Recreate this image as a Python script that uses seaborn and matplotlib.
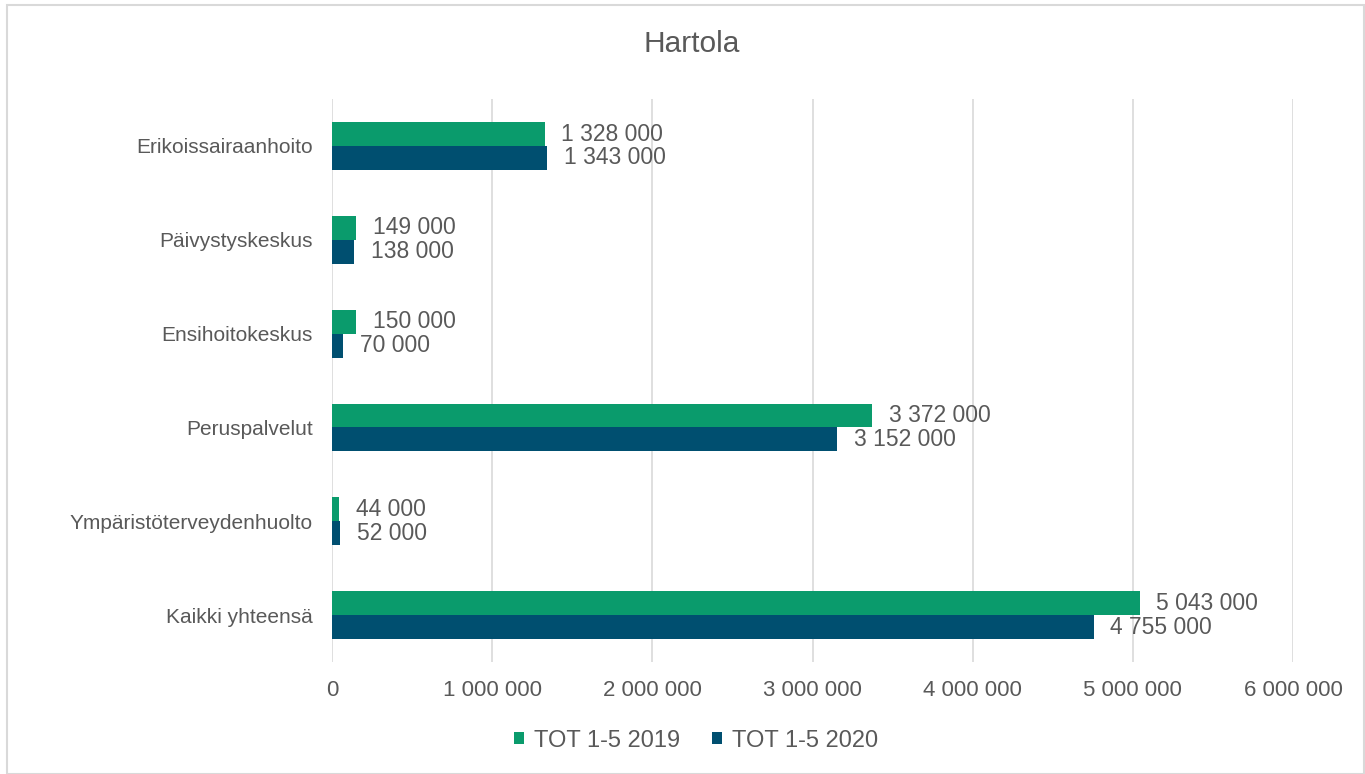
import pandas as pd
import seaborn as sns
import matplotlib.pyplot as plt
from matplotlib.patches import Rectangle
from matplotlib.ticker import FuncFormatter

# Chart data
categories = ["Erikoissairaanhoito", "Päivystyskeskus", "Ensihoitokeskus",
              "Peruspalvelut", "Ympäristöterveydenhuolto", "Kaikki yhteensä"]
tot_2019 = [1328000, 149000, 150000, 3372000, 44000, 5043000]
tot_2020 = [1343000, 138000, 70000, 3152000, 52000, 4755000]
series = ["TOT 1-5 2019", "TOT 1-5 2020"]
x_ticks = [0, 1000000, 2000000, 3000000, 4000000, 5000000, 6000000]

df = pd.DataFrame({
    "Kategoria": categories * 2,
    "Arvo": tot_2019 + tot_2020,
    "Sarja": [series[0]] * len(categories) + [series[1]] * len(categories),
})

def fmt(v):
    return f"{v:,.0f}".replace(",", " ")

sns.set_style("white")
plt.rcParams['font.family'] = ['Liberation Sans', 'DejaVu Sans']
text_color = "#595959"

fig = plt.figure(figsize=(13.65, 7.74), dpi=100)
ax = fig.add_axes([0.2432, 0.1447, 0.7041, 0.7273])

palette = {series[0]: "#0a9b6c", series[1]: "#004f70"}
sns.barplot(data=df, x="Arvo", y="Kategoria", hue="Sarja", palette=palette,
            width=0.51, ax=ax, saturation=1, linewidth=0, zorder=3)

for container in ax.containers:
    ax.bar_label(container, labels=[fmt(v) for v in container.datavalues],
                 padding=12, fontsize=16.5, color=text_color)

ax.set_xlim(0, 6000000)
ax.set_xticks(x_ticks)
ax.xaxis.set_major_formatter(FuncFormatter(lambda v, p: fmt(v)))
ax.grid(axis="x", color="#d9d9d9", linewidth=1.2, zorder=0)
ax.set_axisbelow(True)
for s in ax.spines.values():
    s.set_visible(False)
ax.tick_params(axis="both", length=0, labelcolor=text_color)
ax.tick_params(axis="y", pad=14, labelsize=15)
ax.tick_params(axis="x", pad=13, labelsize=16)
ax.set_xlabel("")
ax.set_ylabel("")

fig.text(0.507, 0.943, "Hartola", ha="center", va="center",
         fontsize=21.5, color=text_color)

handles, labels = ax.get_legend_handles_labels()
ax.get_legend().remove()
fig.legend(handles, labels, loc="center", bbox_to_anchor=(0.51, 0.043), ncol=2,
           frameon=False, fontsize=17, labelcolor=text_color, handlelength=0.42,
           handleheight=0.42, handletextpad=0.42, columnspacing=1.35)

fig.patches.append(Rectangle((0.005, 0.0), 0.994, 0.994, transform=fig.transFigure,
                             fill=False, edgecolor="#d9d9d9", linewidth=1.5))

fig.savefig("out.png", dpi=100)
